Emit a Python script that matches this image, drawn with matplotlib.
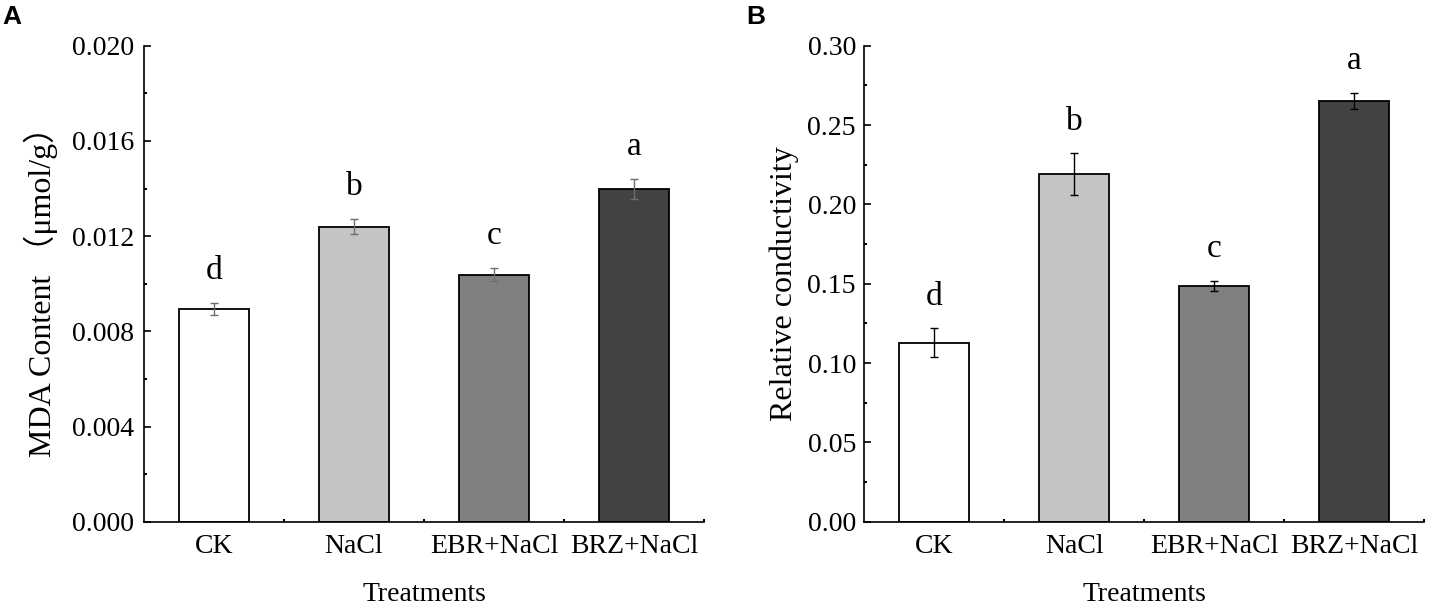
import numpy as np
import matplotlib.pyplot as plt
from matplotlib.ticker import FixedLocator, MultipleLocator, FormatStrFormatter

treatments = ['CK', 'NaCl', 'EBR+NaCl', 'BRZ+NaCl']
bar_colors = ['white', '#c4c4c4', '#808080', '#424242']

mda = [0.00894, 0.01240, 0.01038, 0.01399]
mda_err = [0.00025, 0.00031, 0.00027, 0.00042]
mda_letters = ['d', 'b', 'c', 'a']

cond = [0.1128, 0.2191, 0.1487, 0.2653]
cond_err = [0.0090, 0.0130, 0.0030, 0.0052]
cond_letters = ['d', 'b', 'c', 'a']

plt.rcParams['font.family'] = ['Liberation Serif', 'Noto Sans CJK SC', 'DejaVu Sans']

fig = plt.figure(figsize=(14.3, 6.08), dpi=100)
ax1 = fig.add_axes([144 / 1430, 86.3 / 608, 560 / 1430, 476 / 608])
ax2 = fig.add_axes([864.3 / 1430, 86.3 / 608, 560 / 1430, 476 / 608])

x = np.arange(1, len(treatments) + 1)


def draw(ax, vals, errs, letters, ecolor, ylim, major, minor, fmt, ylabel, ylab_x, pad_y):
    ax.bar(x, vals, width=0.5, color=bar_colors, edgecolor='black', linewidth=1.3, zorder=2)
    ax.errorbar(x, vals, yerr=errs, fmt='none', ecolor=ecolor, elinewidth=1.0,
                capsize=3.2, capthick=1.0, zorder=3)
    for xi, v, e, t in zip(x, vals, errs, letters):
        ax.annotate(t, (xi, v + e), xytext=(0, 32), textcoords='offset pixels',
                    ha='center', va='center', fontsize=24)
    ax.set_xlim(0.5, 4.5)
    ax.set_ylim(*ylim)
    ax.spines['top'].set_visible(False)
    ax.spines['right'].set_visible(False)
    ax.spines['left'].set_linewidth(1.2)
    ax.spines['bottom'].set_linewidth(1.2)
    ax.set_xticks(x)
    ax.set_xticklabels(treatments)
    ax.xaxis.set_minor_locator(FixedLocator([1.5, 2.5, 3.5, 4.5]))
    ax.yaxis.set_major_locator(MultipleLocator(major))
    ax.yaxis.set_minor_locator(MultipleLocator(minor))
    ax.yaxis.set_major_formatter(FormatStrFormatter(fmt))
    ax.tick_params(axis='x', which='major', direction='in', length=4.5, width=1.2,
                   labelsize=20, pad=9)
    ax.tick_params(axis='x', which='minor', direction='in', length=2.5, width=1.5)
    ax.tick_params(axis='y', which='major', direction='in', length=5, width=1.2,
                   labelsize=20, pad=pad_y)
    ax.tick_params(axis='y', which='minor', direction='in', length=2.5, width=1.5)
    ax.set_ylabel(ylabel, fontsize=23, va='center')
    ax.yaxis.set_label_coords(ylab_x, 0.50)
    ax.set_xlabel('Treatments', fontsize=20, va='center')
    ax.xaxis.set_label_coords(0.5, -0.152)


draw(ax1, mda, mda_err, mda_letters, '#6e6e6e', (0, 0.020), 0.004, 0.002, '%.3f',
     'MDA Content \uff08\u03bcmol/g\uff09', -0.184, 7)
draw(ax2, cond, cond_err, cond_letters, 'black', (0, 0.30), 0.05, 0.025, '%.2f',
     'Relative conductivity', -0.143, 6)

fig.text(2 / 1430, 1 - 17 / 608, 'A', fontsize=19, fontweight='bold',
         family='Liberation Sans', va='center', ha='left')
fig.text(746 / 1430, 1 - 17 / 608, 'B', fontsize=19, fontweight='bold',
         family='Liberation Sans', va='center', ha='left')

fig.savefig('out.png', dpi=100)
